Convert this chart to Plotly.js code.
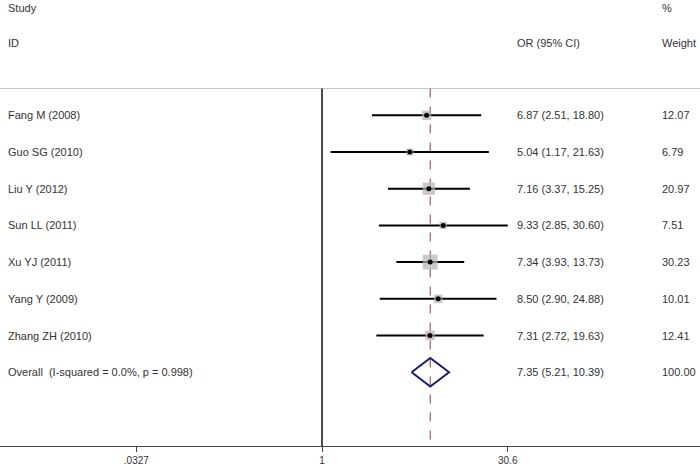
<!DOCTYPE html>
<html>
<head>
<meta charset="utf-8">
<script src="https://cdn.plot.ly/plotly-3.0.1.min.js"></script>
<style>
  html, body { margin: 0; padding: 0; background: #fff; }
  #forest { width: 700px; height: 472px; }
</style>
</head>
<body>
<div id="forest"></div>
<script>
// study level data
var studies = ["Fang M (2008)", "Guo SG (2010)", "Liu Y (2012)", "Sun LL (2011)",
               "Xu YJ (2011)", "Yang Y (2009)", "Zhang ZH (2010)"];
var orEst  = [6.87, 5.04, 7.16, 9.33, 7.34, 8.50, 7.31];
var ciLow  = [2.51, 1.17, 3.37, 2.85, 3.93, 2.90, 2.72];
var ciHigh = [18.80, 21.63, 15.25, 30.60, 13.73, 24.88, 19.63];
var weights = [12.07, 6.79, 20.97, 7.51, 30.23, 10.01, 12.41];

// pooled estimate
var overallLabel = "Overall  (I-squared = 0.0%, p = 0.998)";
var overallEst = 7.35;
var overallLow = 5.21;
var overallHigh = 10.39;
var overallWeight = 100.00;

// x axis ticks
var tickVals = [0.0327, 1, 30.6];
var tickText = [".0327", "1", "30.6"];

var rows = studies.map(function(s, i) { return i; });
var overallRow = studies.length;
var rowTop = -0.73, rowBottom = 9.01;

var txtFont = { family: "Liberation Sans, Arial, sans-serif", size: 11, color: "#333" };

// CI lines
var lineX = [], lineY = [];
rows.forEach(function(i) {
  lineX.push(ciLow[i], ciHigh[i], null);
  lineY.push(i, i, null);
});

var ciTrace = {
  x: lineX, y: lineY, type: "scatter", mode: "lines",
  line: { color: "#000", width: 2 }, hoverinfo: "skip"
};

var boxTrace = {
  x: orEst, y: rows, type: "scatter", mode: "markers",
  marker: {
    symbol: "square", color: "#b4b4b4",
    size: weights.map(function(w) { return 2.7 * Math.sqrt(w); }),
    line: { width: 0 }
  },
  hoverinfo: "skip"
};

var dotTrace = {
  x: orEst, y: rows, type: "scatter", mode: "markers",
  marker: { symbol: "circle", color: "#000", size: 5 },
  hoverinfo: "skip"
};

var halfH = 0.39;
var diamondTrace = {
  x: [overallLow, overallEst, overallHigh, overallEst, overallLow],
  y: [overallRow, overallRow - halfH, overallRow, overallRow + halfH, overallRow],
  type: "scatter", mode: "lines",
  line: { color: "#1c1c6e", width: 2 }, hoverinfo: "skip"
};

// text columns
var annotations = [];
function addText(txt, xPix, row) {
  annotations.push({
    text: txt, xref: "paper", x: xPix / 700, xanchor: "left",
    yref: "y", y: row, yanchor: "middle", showarrow: false, font: txtFont
  });
}
addText("Study", 6, -2.92);
addText("ID", 6, -1.97);
addText("OR (95% CI)", 515, -1.97);
addText("%", 660, -2.92);
addText("Weight", 660, -1.97);

rows.forEach(function(i) {
  addText(studies[i], 6, i);
  addText(orEst[i].toFixed(2) + " (" + ciLow[i].toFixed(2) + ", " + ciHigh[i].toFixed(2) + ")", 515, i);
  addText(weights[i].toFixed(2), 660, i);
});
addText(overallLabel, 6, overallRow);
addText(overallEst.toFixed(2) + " (" + overallLow.toFixed(2) + ", " + overallHigh.toFixed(2) + ")", 515, overallRow);
addText(overallWeight.toFixed(2), 660, overallRow);

var layout = {
  width: 700, height: 472,
  margin: { l: 0, r: 0, t: 0, b: 26 },
  paper_bgcolor: "#fff", plot_bgcolor: "#fff",
  showlegend: false,
  xaxis: {
    type: "log", range: [-2.576, 3.024],
    tickvals: tickVals, ticktext: tickText,
    ticks: "outside", ticklen: 5, tickcolor: "#444",
    showline: true, linecolor: "#444", linewidth: 1,
    showgrid: false, zeroline: false,
    tickfont: { family: "Liberation Sans, Arial, sans-serif", size: 10, color: "#333" }
  },
  yaxis: {
    range: [rowBottom, -3.142], visible: false, showgrid: false, zeroline: false
  },
  shapes: [
    { type: "line", xref: "paper", x0: 0, x1: 1, yref: "y", y0: rowTop, y1: rowTop,
      line: { color: "#c8c8c8", width: 1 }, layer: "below" },
    { type: "line", xref: "x", x0: 1, x1: 1, yref: "y", y0: rowTop, y1: rowBottom,
      line: { color: "#111", width: 1.5 }, layer: "below" },
    { type: "line", xref: "x", x0: overallEst, x1: overallEst, yref: "y", y0: rowTop, y1: rowBottom,
      line: { color: "#a86a6e", width: 1.3, dash: "dash" }, layer: "below" }
  ],
  annotations: annotations
};

Plotly.newPlot("forest", [ciTrace, boxTrace, dotTrace, diamondTrace], layout, { staticPlot: true });
</script>
</body>
</html>
